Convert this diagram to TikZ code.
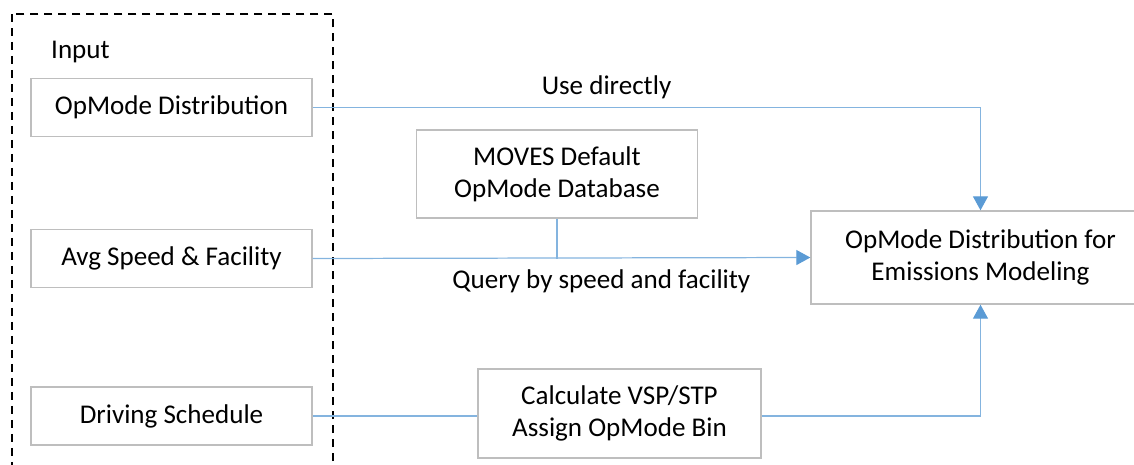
\documentclass[tikz,border=0pt]{standalone}
\usepackage{fontspec}
\setmainfont{Carlito}
\usetikzlibrary{positioning,arrows.meta}
\definecolor{linkblue}{RGB}{91,155,213}
\definecolor{boxgray}{RGB}{190,190,190}

\begin{document}
\begin{tikzpicture}[x=0.02cm, y=-0.02cm, font=\fontsize{15.4}{18.3}\selectfont,
        block/.style={rectangle, draw=boxgray, line width=0.8pt, minimum width=5.62cm, minimum height=1.16cm, align=center, inner sep=0pt},
        line/.style={draw=linkblue!75, line width=0.7pt},
        arrow/.style={line, -{Triangle[length=0.28cm, width=0.3cm, color=linkblue]}}]
        \useasboundingbox (0,0) rectangle (1134,464);
        % input group
        \draw[dash pattern=on 0.16cm off 0.12cm, line width=1pt] (12,14) rectangle (333,490);
        \node[anchor=west] (input) at (45,52) {Input};
        \node [block] (opdist) at (171.5,107.5) {OpMode Distribution};
        \node [block] (avgspeed) at (171.5,258.5) {Avg Speed \& Facility};
        \node [block] (schedule) at (171.5,416) {Driving Schedule};
        
        \node [block, minimum width=5.62cm, minimum height=1.76cm] (moves) at (557,174) {MOVES Default\\OpMode Database};
        \node [block, minimum width=5.66cm, minimum height=1.78cm] (calc) at (619.5,413.5) {Calculate VSP/STP\\Assign OpMode Bin};
        \node [block, minimum width=6.78cm, minimum height=1.86cm] (target) at (980.5,257.5) {OpMode Distribution for\\Emissions Modeling};
        
        \path [arrow] (opdist.east) -| (target.north) node[pos=0.22, above=1pt, black] {Use directly};
        \path [arrow] (avgspeed.east) -- (target.west) node[pos=0.58, below=3pt, black] {Query by speed and facility};
        \path [line] (moves.south) -- (moves.south |- avgspeed.east);
        \path [line] (schedule.east) -- (calc.west |- schedule.east);
        \path [arrow] (calc.east |- schedule.east) -| (target.south);
    \end{tikzpicture}
\end{document}
